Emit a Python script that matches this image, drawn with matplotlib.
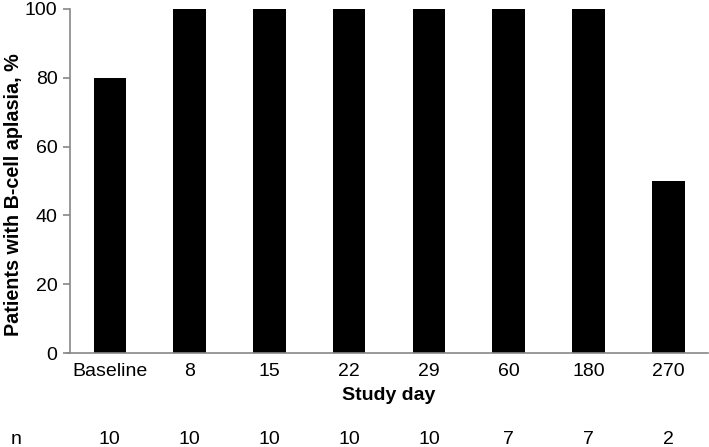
import matplotlib
matplotlib.use("Agg")
import matplotlib.pyplot as plt

days = ["Baseline", "8", "15", "22", "29", "60", "180", "270"]
pct = [80, 100, 100, 100, 100, 100, 100, 50]
n_pts = [10, 10, 10, 10, 10, 7, 7, 2]

plt.rcParams["font.family"] = ["Liberation Sans", "DejaVu Sans"]

fig = plt.figure(figsize=(7.09, 4.47), dpi=100)
ax = fig.add_axes([0.0987, 0.21, 0.9, 0.77])

x = list(range(len(days)))
ax.bar(x, pct, width=0.41, color="black")
ax.set_xlim(-0.5, len(days) - 0.5)
ax.set_ylim(0, 100)
ax.set_yticks([0, 20, 40, 60, 80, 100])
ax.set_xticks(x)
ax.set_xticklabels(days)
ax.tick_params(axis="y", labelsize=14, length=5, color="#888888", width=1.2, pad=4)
ax.tick_params(axis="x", labelsize=14, length=0, pad=7)
for s in ["top", "right"]:
    ax.spines[s].set_visible(False)
for s in ["left", "bottom"]:
    ax.spines[s].set_color("#888888")
    ax.spines[s].set_linewidth(1.2)
ax.spines["bottom"].set_bounds(-0.54, len(days) - 0.5)

ax.set_xlabel("Study day", fontsize=14, fontweight="bold", labelpad=5)
ax.set_ylabel("Patients with B-cell aplasia, %", fontsize=14.2, fontweight="bold")
ax.yaxis.set_label_coords(-0.074, 0.46)

# n row below axis
for xi, n in zip(x, n_pts):
    ax.text(xi, -25, str(n), ha="center", va="center", fontsize=14,
            transform=ax.transData, clip_on=False)
fig.text(16 / 709, 1 - 439 / 447, "n", ha="center", va="center", fontsize=14)

fig.savefig("out.png", dpi=100)
